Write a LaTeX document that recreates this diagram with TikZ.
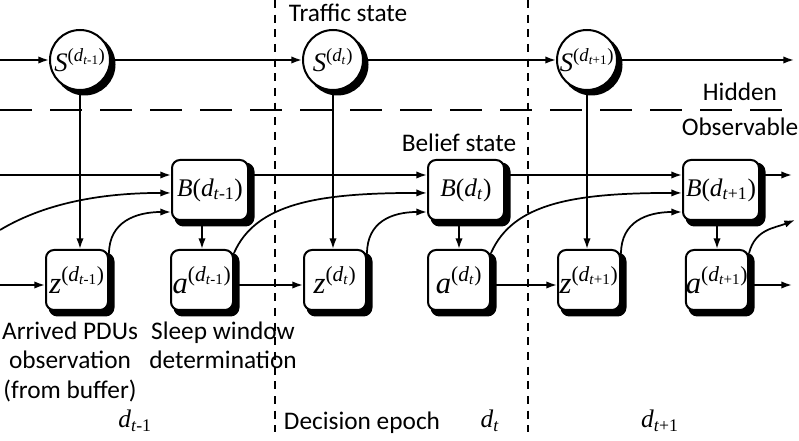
\documentclass[tikz,border=0pt]{standalone}
\usepackage{fontspec}
\setmainfont{Carlito}
\newfontfamily\tms{Liberation Serif}
\usetikzlibrary{arrows.meta,backgrounds}
\newcommand\supd[1]{\textsuperscript{(\textit{d}\textsubscript{\textit{t}#1})}}
\newcommand\dsub[1]{\textit{d}\textsubscript{\textit{t}#1}}
\begin{document}
\begin{tikzpicture}[x=0.75pt,y=-0.75pt,
  line width=1.3pt,
  >={Latex[length=8pt,width=5.5pt]},
  bbox/.style={draw,fill=white,rounded corners=6pt,line width=1.5pt,minimum width=57pt,minimum height=45pt,inner sep=0pt,font=\tms\fontsize{19}{22}\selectfont},
  obox/.style={draw,fill=white,rounded corners=6pt,line width=1.5pt,minimum width=46.5pt,minimum height=45pt,inner sep=0pt,font=\tms\fontsize{23}{26}\selectfont},
  snode/.style={draw,circle,fill=white,line width=1.5pt,minimum size=45pt,inner sep=0pt,font=\tms\fontsize{20}{22}\selectfont},
  shadowfill/.style={fill=black,draw=black,line width=1.5pt},
  lbl/.style={font=\fontsize{19}{22}\selectfont,align=center,inner sep=0pt},
  mlbl/.style={font=\tms\fontsize{19}{22}\selectfont,inner sep=0pt},
  vdash/.style={line width=1.5pt,dash pattern=on 6pt off 5pt},
  hdash/.style={line width=1.5pt,dash pattern=on 24pt off 13.5pt}]
\useasboundingbox (0,0) rectangle (799,441);

% dashed separators
\coordinate (V1t) at (275,0); \coordinate (V1b) at (275,432);
\coordinate (V2t) at (528,0); \coordinate (V2b) at (528,432);
\coordinate (Hl) at (0,110); \coordinate (Hr) at (799,110);
\draw[vdash] (V1t) -- (V1b);
\draw[vdash] (V2t) -- (V2b);
\draw[hdash] (Hl) -- (Hr);

% nodes
\node[snode] (S1) at (80,60) {\textit{S}\supd{-1}};
\node[snode] (S2) at (333,60) {\textit{S}\supd{}};
\node[snode] (S3) at (587,60) {\textit{S}\supd{+1}};

\node[bbox] (B1) at (210,190) {\textit{B}(\dsub{-1})};
\node[bbox] (B2) at (466,190) {\textit{B}(\dsub{})};
\node[bbox] (B3) at (721,190) {\textit{B}(\dsub{+1})};

\node[obox] (z1) at (77,280) {\textit{z}\supd{-1}};
\node[obox] (a1) at (202,280) {\textit{a}\supd{-1}};
\node[obox] (z2) at (335,280) {\textit{z}\supd{}};
\node[obox] (a2) at (459,280) {\textit{a}\supd{}};
\node[obox] (z3) at (589,280) {\textit{z}\supd{+1}};
\node[obox] (a3) at (717,280) {\textit{a}\supd{+1}};

% shadows
\begin{scope}[on background layer]
  \foreach \n in {S1,S2,S3}
    \draw[shadowfill] ([shift={(4.5,4.5)}]\n.center) circle (30);
  \foreach \n in {B1,B2,B3,z1,a1,z2,a2,z3,a3}
    \draw[shadowfill,rounded corners=6pt] ([shift={(4.5,4.5)}]\n.south west) rectangle ([shift={(4.5,4.5)}]\n.north east);
\end{scope}

% free ends
\coordinate (L0) at (0,60);   \coordinate (R0) at (794,60);
\coordinate (L1) at (0,175);  \coordinate (R1) at (792,175);
\coordinate (L2) at (0,230);
\coordinate (R3) at (795,220);
\coordinate (L4) at (0,285);  \coordinate (R4) at (792,285);

% hidden chain
\draw[->] (L0) -- (S1);
\draw[->] (S1) -- (S2);
\draw[->] (S2) -- (S3);
\draw[->] (S3) -- (R0);

% S -> z
\draw[->] (S1) -- (S1 |- z1.north);
\draw[->] (S2) -- (S2 |- z2.north);
\draw[->] (S3) -- (S3 |- z3.north);

% belief chain
\draw[->] (L1) -- (L1 -| B1.west);
\draw[->] (B1.east |- L1) -- (B2.west |- L1);
\draw[->] (B2.east |- L1) -- (B3.west |- L1);
\draw[->] (B3.east |- L1) -- (R1);

% B -> a
\draw[->] (a1 |- B1.south) -- (a1.north);
\draw[->] (a2 |- B2.south) -- (a2.north);
\draw[->] (a3 |- B3.south) -- (a3.north);

% a -> next B
\draw[->] (L2) .. controls +(50,-30) and +(-60,0) .. ([yshift=-2.2pt]B1.west);
\draw[->] ([yshift=-3pt]a1.north east) .. controls +(22,-50) and +(-108,0) .. ([yshift=-2.2pt]B2.west);
\draw[->] ([yshift=-3pt]a2.north east) .. controls +(22,-50) and +(-108,0) .. ([yshift=-2.2pt]B3.west);
\draw[->] ([yshift=-3pt]a3.north east) .. controls +(6,-24) and +(-20,8) .. (R3);

% z -> B
\draw[->] ([yshift=-3.5pt]z1.north east) .. controls +(0,-32) and +(-35,0) .. ([yshift=-16.5pt]B1.west);
\draw[->] ([yshift=-3.5pt]z2.north east) .. controls +(0,-32) and +(-35,0) .. ([yshift=-16.5pt]B2.west);
\draw[->] ([yshift=-3.5pt]z3.north east) .. controls +(0,-32) and +(-35,0) .. ([yshift=-16.5pt]B3.west);

% observation chain
\draw[->] (L4) -- (L4 -| z1.west);
\draw[->] (a1.east |- L4) -- (z2.west |- L4);
\draw[->] (a2.east |- L4) -- (z3.west |- L4);
\draw[->] (a3.east |- L4) -- (R4);

% labels
\node[lbl] (tTraffic) at (348,13) {Traffic state};
\node[lbl] (tHidden) at (740,92) {Hidden};
\node[lbl] (tObs) at (740,127) {Observable};
\node[lbl] (tBelief) at (459,143) {Belief state};
\node[lbl,anchor=north] (tArr) at (70,321) {Arrived PDUs\\observation\\(from buffer)};
\node[lbl,anchor=north] (tSleep) at (223,321) {Sleep window\\determination};
\node[lbl] (tDec) at (362,423) {Decision epoch};
\node[mlbl] (d1) at (135,421) {\dsub{-1}};
\node[mlbl] (d2) at (490,421) {\dsub{}};
\node[mlbl] (d3) at (660,421) {\dsub{+1}};
\end{tikzpicture}
\end{document}
